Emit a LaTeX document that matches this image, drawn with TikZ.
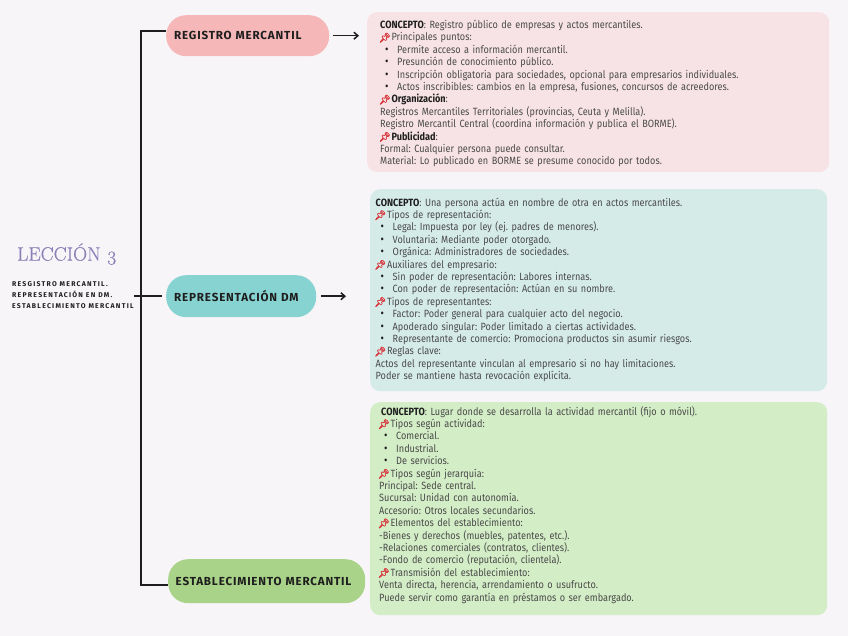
\documentclass[tikz,border=0pt]{standalone}
\usepackage{fontspec}
\usetikzlibrary{arrows.meta}
\newfontfamily\bodyfont[FakeStretch=0.87,WordSpace=0.75]{Fira Sans}
\newfontfamily\pillfont[LetterSpace=7]{Fira Sans}
\newfontfamily\smallfont[LetterSpace=18]{Fira Sans}
\newfontfamily\pinfont[FakeBold=2]{Noto Emoji}
\newfontfamily\titlefont[Numbers=OldStyle,FakeBold=0.3]{Latin Modern Roman}
\definecolor{pagebg}{HTML}{F7F5F7}
\definecolor{panelA}{HTML}{F7E3E5}
\definecolor{panelB}{HTML}{D5EBE8}
\definecolor{panelC}{HTML}{D3EDC6}
\definecolor{pillA}{HTML}{F5B7B8}
\definecolor{pillB}{HTML}{87D3D1}
\definecolor{pillC}{HTML}{A9D388}
\definecolor{titlecol}{HTML}{8A80B8}
\definecolor{bodycol}{HTML}{4A4A4A}
\definecolor{inkcol}{HTML}{1E1E1E}
\definecolor{pincol}{HTML}{D8393F}
\newlength{\bulletc}\newlength{\bullett}
\newcommand{\Ln}[1]{\par\noindent #1}
\newcommand{\Bu}[1]{\par\noindent\hspace*{\bulletc}\makebox[0pt]{\textcolor{inkcol}{\large\textbullet}}\hspace*{\bullett}#1}
\newcommand{\Pin}{\hspace*{-1.5pt}{\pinfont\fontsize{9.5}{12.4}\selectfont\textcolor{pincol}{\symbol{"1F4CC}}}\hspace{0.8pt}}
\newcommand{\Bd}[1]{\textcolor{inkcol}{\textbf{#1}}}
\tikzset{
  x=1pt,y=-1pt,
  panel/.style={rounded corners=10pt,draw=none,anchor=north west,inner sep=0pt},
  pill/.style={rounded corners=20pt,draw=none,anchor=north west,inner xsep=8pt,inner ysep=0pt,align=left,text=inkcol,font=\pillfont\bfseries\fontsize{11.65}{13}\selectfont},
  txt/.style={anchor=north west,inner sep=0pt,text width=445pt,text=bodycol,font=\frenchspacing\bodyfont\fontsize{10.5}{12.4}\selectfont},
  spine/.style={draw=inkcol,line width=1.7pt},
  pointer/.style={draw=inkcol,line width=1.5pt,-{Straight Barb[length=4pt,width=7pt]}},
}
\begin{document}
\begin{tikzpicture}
\useasboundingbox[fill=pagebg] (0,0) rectangle (848,636);
% panels
\node[panel,fill=panelA,minimum width=462pt,minimum height=160pt] (boxa) at (367,12) {};
\node[panel,fill=panelB,minimum width=457pt,minimum height=202pt] (boxb) at (370,189) {};
\node[panel,fill=panelC,minimum width=457pt,minimum height=213pt] (boxc) at (370,402) {};
% pills
\node[pill,fill=pillA,minimum height=41pt,text width=147pt] (reg) at (166,15) {REGISTRO MERCANTIL};
\node[pill,fill=pillB,minimum height=42pt,text width=134pt] (rep) at (166,275) {REPRESENTACIÓN DM};
\node[pill,fill=pillC,minimum height=44pt,text width=182pt,inner xsep=7.5pt] (est) at (168,559) {ESTABLECIMIENTO MERCANTIL};
% left labels
\node[anchor=west,inner sep=0pt,text=titlecol,font=\titlefont\fontsize{19.5}{22}\selectfont] (title) at (17,254) {LECCIÓN 3};
\node[anchor=north west,inner sep=0pt,align=left,text=inkcol,font=\smallfont\bfseries\fontsize{6.9}{11}\selectfont] (sub) at (12,281.5) {RESGISTRO MERCANTIL.\\REPRESENTACIÓN EN DM.\\ESTABLECIMIENTO MERCANTIL};
% connectors
\coordinate (ct) at (141,31);
\coordinate (cb) at (141,585);
\coordinate (cm) at (134,296);
\draw[spine,line join=miter] (reg.west |- ct) -- (ct) -- (cb) -- (est.west |- cb);
\draw[spine] (cm) -- ([xshift=-4pt]rep.west |- cm);
\draw[pointer,shorten <=4pt,shorten >=8pt] (reg.east) -- (reg.east -| boxa.west);
\draw[pointer,shorten <=5pt,shorten >=24pt] (rep.east) -- (rep.east -| boxb.west);
% panel A
\setlength{\bulletc}{6.7pt}\setlength{\bullett}{10.3pt}
\node[txt] (ta) at (380,16) {%
\Ln{\Bd{CONCEPTO}: Registro público de empresas y actos mercantiles.}
\Ln{\Pin Principales puntos:}
\Bu{Permite acceso a información mercantil.}
\Bu{Presunción de conocimiento público.}
\Bu{Inscripción obligatoria para sociedades, opcional para empresarios individuales.}
\Bu{Actos inscribibles: cambios en la empresa, fusiones, concursos de acreedores.}
\Ln{\Pin\Bd{Organización}:}
\Ln{Registros Mercantiles Territoriales (provincias, Ceuta y Melilla).}
\Ln{Registro Mercantil Central (coordina información y publica el BORME).}
\Ln{\Pin\Bd{Publicidad}:}
\Ln{Formal: Cualquier persona puede consultar.}
\Ln{Material: Lo publicado en BORME se presume conocido por todos.}
};
% panel B
\node[txt] (tb) at (375.5,193.5) {%
\Ln{\Bd{CONCEPTO}: Una persona actúa en nombre de otra en actos mercantiles.}
\Ln{\Pin Tipos de representación:}
\Bu{Legal: Impuesta por ley (ej. padres de menores).}
\Bu{Voluntaria: Mediante poder otorgado.}
\Bu{Orgánica: Administradores de sociedades.}
\Ln{\Pin Auxiliares del empresario:}
\Bu{Sin poder de representación: Labores internas.}
\Bu{Con poder de representación: Actúan en su nombre.}
\Ln{\Pin Tipos de representantes:}
\Bu{Factor: Poder general para cualquier acto del negocio.}
\Bu{Apoderado singular: Poder limitado a ciertas actividades.}
\Bu{Representante de comercio: Promociona productos sin asumir riesgos.}
\Ln{\Pin Reglas clave:}
\Ln{Actos del representante vinculan al empresario si no hay limitaciones.}
\Ln{Poder se mantiene hasta revocación explícita.}
};
% panel C
\node[txt] (tc) at (379,402.5) {%
\Ln{\hspace*{2pt}\Bd{CONCEPTO}: Lugar donde se desarrolla la actividad mercantil (fijo o móvil).}
\Ln{\Pin Tipos según actividad:}
\Bu{Comercial.}
\Bu{Industrial.}
\Bu{De servicios.}
\Ln{\Pin Tipos según jerarquía:}
\Ln{Principal: Sede central.}
\Ln{Sucursal: Unidad con autonomía.}
\Ln{Accesorio: Otros locales secundarios.}
\Ln{\Pin Elementos del establecimiento:}
\Ln{-Bienes y derechos (muebles, patentes, etc.).}
\Ln{-Relaciones comerciales (contratos, clientes).}
\Ln{-Fondo de comercio (reputación, clientela).}
\Ln{\Pin Transmisión del establecimiento:}
\Ln{Venta directa, herencia, arrendamiento o usufructo.}
\Ln{Puede servir como garantía en préstamos o ser embargado.}
};
\end{tikzpicture}
\end{document}
